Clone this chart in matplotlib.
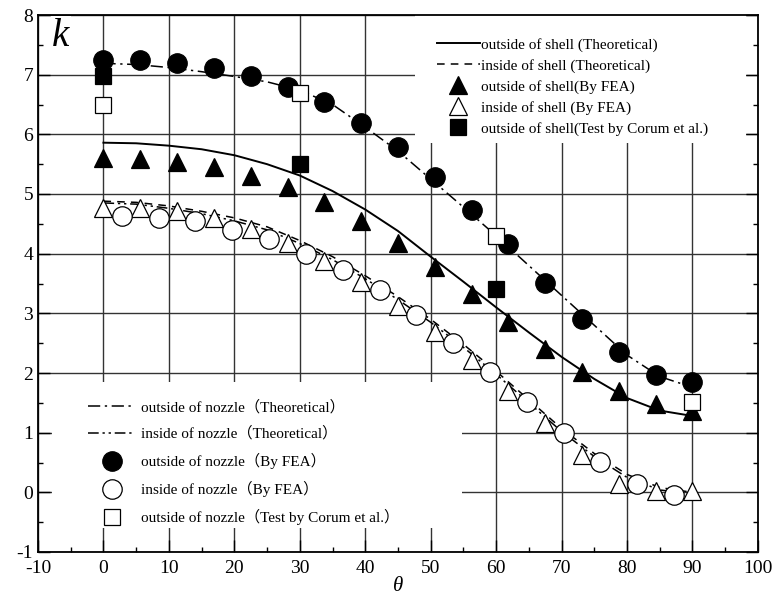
import matplotlib
matplotlib.use("Agg")
import matplotlib.pyplot as plt
from matplotlib.patches import Rectangle

plt.rcParams['font.family'] = ['Liberation Serif', 'Noto Sans CJK SC', 'DejaVu Sans']
plt.rcParams['axes.unicode_minus'] = False

# -------------------------
# DATA
# -------------------------
theta_line = [0, 5, 10, 15, 20, 25, 30, 35, 40, 45, 50, 55, 60, 65, 70, 75, 80, 85, 90]
k_shell_out_th = [5.86, 5.85, 5.81, 5.75, 5.65, 5.50, 5.31, 5.05, 4.74, 4.38, 3.95, 3.53,
                  3.10, 2.68, 2.27, 1.90, 1.58, 1.37, 1.28]
k_shell_in_th = [4.88, 4.86, 4.80, 4.71, 4.60, 4.45, 4.22, 3.95, 3.63, 3.28, 2.90, 2.48,
                 2.03, 1.55, 1.07, 0.65, 0.30, 0.08, 0.00]
k_noz_out_th = [7.19, 7.17, 7.12, 7.05, 6.97, 6.88, 6.74, 6.50, 6.12, 5.72, 5.25, 4.78,
                4.30, 3.80, 3.30, 2.80, 2.30, 1.94, 1.76]
k_noz_in_th = [4.85, 4.83, 4.76, 4.67, 4.55, 4.40, 4.17, 3.90, 3.58, 3.23, 2.85, 2.43,
               1.98, 1.50, 1.02, 0.60, 0.25, 0.04, -0.03]

theta_fea = [0, 5.625, 11.25, 16.875, 22.5, 28.125, 33.75, 39.375, 45, 50.625, 56.25,
             61.875, 67.5, 73.125, 78.75, 84.375, 90]
k_shell_out_fea = [5.60, 5.58, 5.53, 5.45, 5.30, 5.12, 4.87, 4.55, 4.18, 3.77, 3.32,
                   2.86, 2.41, 2.01, 1.69, 1.48, 1.37]
k_shell_in_fea = [4.77, 4.77, 4.72, 4.60, 4.42, 4.18, 3.87, 3.53, 3.12, 2.69, 2.21,
                  1.69, 1.17, 0.62, 0.14, 0.02, 0.02]
k_noz_out_fea = [7.25, 7.24, 7.20, 7.12, 6.98, 6.79, 6.55, 6.19, 5.79, 5.28, 4.73,
                 4.16, 3.51, 2.90, 2.35, 1.97, 1.85]

theta_noz_in = [2.8125, 8.4375, 14.0625, 19.6875, 25.3125, 30.9375, 36.5625, 42.1875,
                47.8125, 53.4375, 59.0625, 64.6875, 70.3125, 75.9375, 81.5625, 87.1875]
k_noz_in_fea = [4.63, 4.60, 4.55, 4.40, 4.24, 4.00, 3.72, 3.39, 2.97, 2.51, 2.01,
                1.51, 0.99, 0.51, 0.14, -0.04]

theta_test_shell = [0, 30, 60]
k_test_shell = [6.98, 5.50, 3.40]
theta_test_noz = [0, 30, 60, 90]
k_test_noz = [6.50, 6.70, 4.30, 1.51]

# -------------------------
# FIGURE
# -------------------------
fig = plt.figure(figsize=(7.75, 6), dpi=100)
ax = fig.add_axes([0.049, 0.08, 0.929, 0.895])
ax.set_xlim(-10, 100)
ax.set_ylim(-1, 8)
ax.set_xticks(range(-10, 101, 10))
ax.set_yticks(range(-1, 9))
ax.set_xticks(range(-5, 100, 10), minor=True)
ax.set_yticks([v / 2 for v in range(-1, 16, 2)], minor=True)
ax.tick_params(which='both', direction='in', labelsize=14, right=True, top=False)
ax.tick_params(which='major', length=8.5, width=1)
ax.tick_params(which='minor', length=3.5, width=1)
ax.tick_params(axis='x', pad=6)
for s in ax.spines.values():
    s.set_linewidth(1.3)
ax.set_axisbelow(True)
ax.grid(True, which='major', color='#333333', linewidth=1.0)

# white areas behind the legends
ax.add_patch(Rectangle((0.524, 0.762), 0.46, 0.24, transform=ax.transAxes,
                       facecolor='white', edgecolor='none', zorder=1))
ax.add_patch(Rectangle((0.02, 0.045), 0.569, 0.272, transform=ax.transAxes,
                       facecolor='white', edgecolor='none', zorder=1))

lw = 1.4
l1, = ax.plot(theta_line, k_shell_out_th, color='black', lw=lw, zorder=3)
l2, = ax.plot(theta_line, k_shell_in_th, color='black', lw=1.1,
              linestyle=(0, (5, 4)), zorder=3)
l3, = ax.plot(theta_line, k_noz_out_th, color='black', lw=1.1,
              linestyle=(0, (8, 3, 1.5, 3)), zorder=3)
l4, = ax.plot(theta_line, k_noz_in_th, color='black', lw=1.1,
              linestyle=(0, (7, 2.5, 1.5, 2.5, 1.5, 2.5)), zorder=3)

mew = 0.9
m1, = ax.plot(theta_fea, k_shell_out_fea, '^', ms=13, mfc='black', mec='black', mew=mew,
              linestyle='none', zorder=4)
m2, = ax.plot(theta_fea, k_shell_in_fea, '^', ms=13, mfc='white', mec='black', mew=mew,
              linestyle='none', zorder=4)
m4, = ax.plot(theta_noz_in, k_noz_in_fea, 'o', ms=14, mfc='white', mec='black', mew=mew,
              linestyle='none', zorder=4)
m3, = ax.plot(theta_fea, k_noz_out_fea, 'o', ms=14, mfc='black', mec='black', mew=mew,
              linestyle='none', zorder=4)
m5, = ax.plot(theta_test_shell, k_test_shell, 's', ms=11, mfc='black', mec='black', mew=mew,
              linestyle='none', zorder=5)
m6, = ax.plot(theta_test_noz, k_test_noz, 's', ms=11, mfc='white', mec='black', mew=mew,
              linestyle='none', zorder=5)

leg1 = ax.legend([l1, l2, m1, m2, m5],
                 ['outside of shell (Theoretical)', 'inside of shell (Theoretical)',
                  'outside of shell(By FEA)', 'inside of shell (By FEA)',
                  'outside of shell(Test by Corum et al.)'],
                 loc='upper left', bbox_to_anchor=(437 / 775, 1 - 38 / 600),
                 bbox_transform=fig.transFigure, frameon=False, fontsize=11,
                 borderpad=0, borderaxespad=0, labelspacing=0.46,
                 handlelength=2.8, handletextpad=0.1)
ax.add_artist(leg1)
ax.legend([l3, l4, m3, m4, m6],
          ['outside of nozzle（Theoretical）', 'inside of nozzle（Theoretical）',
           'outside of nozzle（By FEA）', 'inside of nozzle（By FEA）',
           'outside of nozzle（Test by Corum et al.）'],
          loc='upper left', bbox_to_anchor=(88 / 775, 1 - 400 / 600),
          bbox_transform=fig.transFigure, frameon=False, fontsize=11,
          borderpad=0, borderaxespad=0, labelspacing=0.78,
          handlelength=3.1, handletextpad=0.4)

ax.text(0.02, 0.995, 'k', transform=ax.transAxes, fontsize=28, style='italic',
        ha='left', va='top', zorder=10,
        bbox=dict(facecolor='white', edgecolor='none', pad=1))
ax.set_xlabel('θ', fontsize=15, style='italic', labelpad=0)

fig.savefig('out.png', dpi=100)
